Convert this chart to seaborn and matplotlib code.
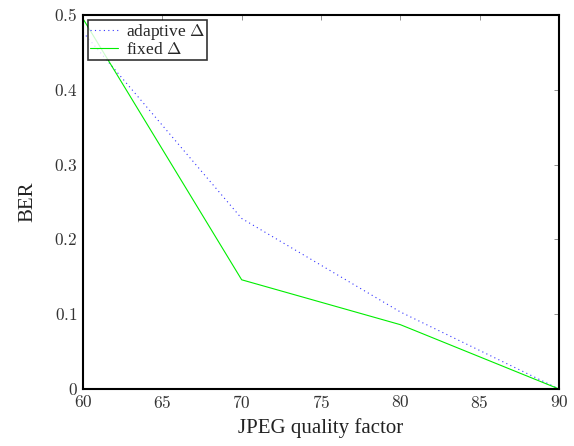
import matplotlib
matplotlib.use("Agg")
import matplotlib.pyplot as plt
import seaborn as sns
import pandas as pd

quality = [60, 70, 80, 90]
ber_adaptive = [0.477, 0.228, 0.103, 0.0]
ber_fixed = [0.495, 0.146, 0.086, 0.0]
xticks = [60, 65, 70, 75, 80, 85, 90]
yticks = [0, 0.1, 0.2, 0.3, 0.4, 0.5]
xtick_labels = ["60", "65", "70", "75", "80", "85", "90"]
ytick_labels = ["0", "0.1", "0.2", "0.3", "0.4", "0.5"]

sns.set_theme(style="white")
plt.rcParams['font.family'] = ['Liberation Serif', 'DejaVu Serif']
plt.rcParams['mathtext.fontset'] = 'cm'

df = pd.DataFrame({
    "q": quality * 2,
    "ber": ber_adaptive + ber_fixed,
    "series": ["adaptive $\\Delta$"] * 4 + ["fixed $\\Delta$"] * 4,
})

fig = plt.figure(figsize=(5.74, 4.46), dpi=100)
ax = fig.add_axes([0.1446, 0.1278, 0.8293, 0.8386])
sns.lineplot(data=df, x="q", y="ber", hue="series", style="series",
             palette=["#3333ff", "#00ee00"], dashes=[(1, 3), ""],
             linewidth=0.8, ax=ax, legend=True)
ax.set_xlim(60, 90)
ax.set_ylim(0, 0.5)
ax.set_xticks(xticks)
ax.set_yticks(yticks)
ax.set_xticklabels(["$" + t + "$" for t in xtick_labels])
ax.set_yticklabels(["$" + t + "$" for t in ytick_labels])
ax.tick_params(direction="in", top=True, right=True, length=3.6, width=0.5,
               labelsize=12.5, labelcolor="#333333", color="#666666", pad=4)
for s in ax.spines.values():
    s.set_color("black")
    s.set_linewidth(1.5)
ax.set_xlabel("JPEG quality factor", fontsize=15, color="#222222", labelpad=5)
ax.set_ylabel("BER", fontsize=15, color="#222222", labelpad=12)
leg = ax.legend(loc="upper left", fontsize=12.5, frameon=True, fancybox=False,
                edgecolor="black", borderpad=0.1, labelspacing=0.0,
                handlelength=1.6, borderaxespad=0.3, handletextpad=0.5)
leg.get_frame().set_linewidth(1.2)
fig.savefig("out.png", dpi=100)
